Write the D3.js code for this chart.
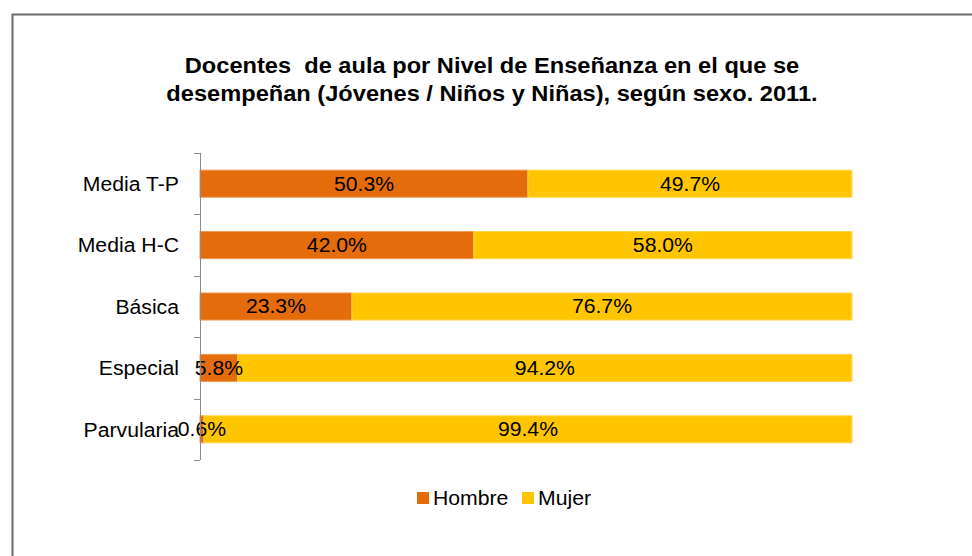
<!DOCTYPE html>
<html>
<head>
<meta charset="utf-8">
<script src="https://cdn.jsdelivr.net/npm/d3@7"></script>
<style>
  body { margin: 0; background: #fff; }
  svg text { font-family: "Liberation Sans", Arial, sans-serif; white-space: pre; }
</style>
</head>
<body>
<div id="chart"></div>
<script>
// data (percent)
var categories = ["Media T-P", "Media H-C", "Básica", "Especial", "Parvularia"];
var hombre = [50.3, 42.0, 23.3, 5.8, 0.6];
var mujer = [49.7, 58.0, 76.7, 94.2, 99.4];
var seriesNames = ["Hombre", "Mujer"];
var titleLines = ["Docentes  de aula por Nivel de Enseñanza en el que se",
                  "desempeñan (Jóvenes / Niños y Niñas), según sexo. 2011."];
var colors = ["#E46C0A", "#FFC600"];
var strokes = ["#EE9550", "#FFD54D"];

var W = 972, H = 556;
var STRETCH = 1.06; // the source renders text a bit wider than Arial

var svg = d3.select("#chart").append("svg")
  .attr("width", W).attr("height", H);

svg.append("rect").attr("width", W).attr("height", H).attr("fill", "#fff");

// widen text horizontally to match the source rendering
function stretch(sel, k) {
  sel.each(function() {
    var len = this.getComputedTextLength();
    d3.select(this).attr("textLength", len * k).attr("lengthAdjust", "spacingAndGlyphs");
  });
}

// chart frame (only top and left edges visible)
svg.append("path")
  .attr("d", "M12.5," + H + "V14.5H" + W)
  .attr("fill", "none")
  .attr("stroke", "#6b6b6b")
  .attr("stroke-width", 2);

// title
svg.selectAll(".title").data(titleLines).enter().append("text")
  .attr("class", "title")
  .attr("x", 492)
  .attr("y", function(d, i) { return 73 + i * 28; })
  .attr("text-anchor", "middle")
  .attr("font-weight", "bold")
  .attr("font-size", 22.5)
  .attr("fill", "#000")
  .text(function(d) { return d; })
  .call(stretch, 1.05);

var x = d3.scaleLinear().domain([0, 100]).range([200, 852]);
var y = d3.scaleBand().domain(categories).range([153, 460]).paddingInner(0.56).paddingOuter(0.28);

var rows = categories.map(function(c, i) {
  return { cat: c, segs: [
    { s: 0, x0: 0, x1: hombre[i], v: hombre[i] },
    { s: 1, x0: hombre[i], x1: hombre[i] + mujer[i], v: mujer[i] }
  ]};
});

var g = svg.selectAll(".row").data(rows).enter().append("g")
  .attr("transform", function(d) { return "translate(0," + y(d.cat) + ")"; });

g.selectAll("rect").data(function(d) { return d.segs; }).enter().append("rect")
  .attr("x", function(d) { return x(d.x0); })
  .attr("y", 0)
  .attr("width", function(d) { return x(d.x1) - x(d.x0); })
  .attr("height", y.bandwidth())
  .attr("fill", function(d) { return colors[d.s]; })
  .attr("stroke", function(d) { return strokes[d.s]; })
  .attr("stroke-width", 1);

g.selectAll("text").data(function(d) { return d.segs; }).enter().append("text")
  .attr("x", function(d) { return (x(d.x0) + x(d.x1)) / 2; })
  .attr("y", y.bandwidth() / 2 + 7)
  .attr("text-anchor", "middle")
  .attr("font-size", 20)
  .attr("fill", "#000")
  .text(function(d) { return d.v.toFixed(1) + "%"; })
  .call(stretch, STRETCH);

// category axis
var yAxis = d3.axisLeft(y).tickSize(0).tickPadding(21);
var ax = svg.append("g").attr("transform", "translate(200,0)").call(yAxis);
ax.select(".domain").remove();
ax.selectAll("text").attr("font-size", 20).attr("fill", "#000")
  .attr("dy", "0.36em")
  .style("font-family", "'Liberation Sans', Arial, sans-serif")
  .call(stretch, STRETCH);

svg.append("line")
  .attr("x1", 200.5).attr("x2", 200.5)
  .attr("y1", 153).attr("y2", 460)
  .attr("stroke", "#8c8c8c");

var edges = categories.map(function(c) { return y(c) - y.step() * y.paddingInner() / 2; });
edges.push(460);
edges[0] = 153;
svg.selectAll(".tk").data(edges).enter().append("line")
  .attr("x1", 194).attr("x2", 200)
  .attr("y1", function(d) { return Math.round(d) + 0.5; })
  .attr("y2", function(d) { return Math.round(d) + 0.5; })
  .attr("stroke", "#8c8c8c");

// legend
var legX = [417, 522];
var leg = svg.selectAll(".leg").data(seriesNames).enter().append("g")
  .attr("transform", function(d, i) { return "translate(" + legX[i] + ",492)"; });
leg.append("rect").attr("width", 12).attr("height", 12)
  .attr("fill", function(d, i) { return colors[i]; });
leg.append("text").attr("x", 16).attr("y", 12.5)
  .attr("font-size", 20).attr("fill", "#000")
  .text(function(d) { return d; })
  .call(stretch, STRETCH);
</script>
</body>
</html>
